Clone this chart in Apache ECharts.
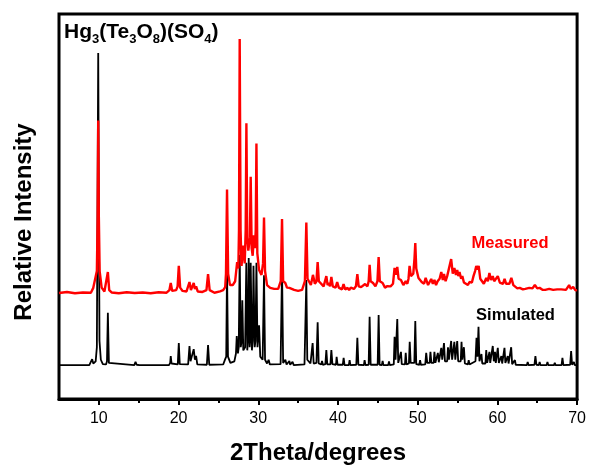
<!DOCTYPE html>
<html>
<head>
<meta charset="utf-8">
<script src="https://cdn.jsdelivr.net/npm/echarts@6/dist/echarts.min.js"></script>
<style>
  html, body { margin: 0; padding: 0; background: #fff; }
  #chart { width: 589px; height: 466px; }
</style>
</head>
<body>
<div id="chart"></div>
<script>
// Powder XRD of Hg3(Te3O8)(SO4): calculated pattern vs. measured pattern.
// Intensities are relative (% of each pattern's strongest reflection).

const xMin = 5;
const xMax = 70;
const majorTicks = [10, 20, 30, 40, 50, 60, 70];
const minorTicks = [15, 25, 35, 45, 55, 65];

// [2theta, relative intensity %]
const simulated = [
  [5,0.3],[8.8,0.3],[9.05,0.6],[9.16,2.2],[9.3,0.8],[9.6,1.5],[9.75,6],[9.92,100],[10.08,8],[10.25,2],[10.5,0.6],
  [10.9,0.5],[11.02,1.5],[11.13,17],[11.26,1],[11.5,0.4],
  [14.45,0.3],[14.6,1.3],[14.75,0.4],[14.9,0.4],[15.0,1.0],[15.1,0.3],
  [18.8,0.3],[18.95,1],[19.02,3.2],[19.12,0.8],[19.9,0.5],[20.03,7.3],[20.15,0.6],
  [21.2,0.5],[21.37,6.4],[21.5,1.5],[21.75,1.5],[21.9,5.4],[22.05,2],[22.2,3.2],[22.35,0.5],
  [23.55,0.4],[23.7,6.7],[23.85,0.4],[25.6,0.5],[25.85,2.2],[25.98,3],[26.08,31],[26.2,3],[26.5,1],
  [27.0,1.5],[27.2,4],[27.3,9.6],[27.45,4],[27.55,6],[27.67,35.5],[27.8,6],[27.92,8],[28.0,21],[28.12,5],
  [28.35,6],[28.5,33],[28.62,5],[28.7,8],[28.8,34.5],[28.92,6],[28.97,8],[29.05,33],[29.2,5],[29.3,8],
  [29.4,32],[29.55,6],[29.65,8],[29.77,33],[29.9,6],[30.1,13],[30.25,3],[30.55,2],[30.72,29],[30.85,2],
  [31.1,0.8],[31.3,2],[31.45,0.5],[32.8,0.6],[32.98,31],[33.12,1],[33.4,2],[33.55,0.5],[33.9,1.6],[34.0,0.4],
  [34.3,1.3],[34.45,0.3],[35.8,0.5],[36.03,27.5],[36.15,2],[36.4,2.5],[36.55,0.8],[36.7,1],[36.82,7.3],[36.95,0.8],
  [37.3,1],[37.45,14],[37.58,0.8],[37.9,0.5],[38.0,1.6],[38.1,0.4],[38.42,0.6],[38.54,5.1],[38.66,0.5],
  [39.05,0.5],[39.17,5.1],[39.3,0.6],[39.75,0.4],[39.83,2.9],[39.95,0.4],[40.6,0.4],[40.71,2.6],[40.82,0.3],
  [41.36,0.3],[41.46,1.9],[41.56,0.3],[42.3,0.4],[42.43,9],[42.56,0.4],[43.25,0.3],[43.34,1.9],[43.45,0.3],
  [43.85,0.4],[43.97,15.7],[44.1,0.4],[44.98,0.4],[45.1,16.3],[45.22,0.4],[45.5,0.3],[45.6,1.6],[45.7,0.3],
  [46.3,0.3],[46.4,1.5],[46.5,0.3],[47.0,0.5],[47.1,9.3],[47.22,2],[47.32,2],[47.44,15],[47.56,1],
  [47.8,0.6],[47.9,4.5],[48.0,0.6],[48.4,0.5],[48.5,4.2],[48.6,0.5],[48.9,0.8],[49.0,7.7],[49.12,1],
  [49.58,1],[49.7,14.4],[49.82,0.6],[50.2,0.4],[50.3,1.9],[50.4,0.4],[50.95,0.5],[51.07,4.2],[51.2,1],
  [51.5,1],[51.6,4.5],[51.72,1],[52.0,1],[52.1,4.5],[52.22,1],[52.42,1],[52.53,4.2],[52.65,1.2],
  [52.85,1.5],[52.96,5.8],[53.08,2],[53.2,2],[53.3,7.3],[53.42,1.5],[53.7,1.5],[53.8,6],[53.92,2],
  [54.1,2],[54.2,8],[54.32,2],[54.5,2],[54.6,7.7],[54.72,2],[54.85,2],[54.96,8],[55.08,1.5],
  [55.4,1.5],[55.5,7.7],[55.6,2],[55.7,2],[55.8,6],[55.92,0.8],[56.3,0.5],[56.4,1.9],[56.5,0.5],
  [57.25,1.5],[57.38,9],[57.5,3],[57.63,12.5],[57.75,1.5],[57.9,1],[58.0,3.8],[58.1,0.8],
  [58.5,0.8],[58.6,5.1],[58.72,1],[58.9,1],[59.0,4.5],[59.1,1],[59.32,1],[59.42,6.4],[59.55,1.5],
  [59.6,1.5],[59.7,4.5],[59.8,1],[59.95,1],[60.05,5.8],[60.18,1],[60.4,0.8],[60.5,3.2],[60.6,0.8],
  [60.78,1],[60.89,5.8],[61.0,1],[61.2,0.8],[61.3,3.2],[61.4,0.8],[61.62,0.8],[61.73,6],[61.85,0.6],
  [62.1,0.4],[62.2,1.9],[62.3,0.4],[63.7,0.3],[63.8,1.3],[63.9,0.3],[64.65,0.4],[64.77,3.2],[64.9,0.4],
  [65.2,0.3],[65.3,1.3],[65.4,0.3],[66.18,0.3],[66.28,1.3],[66.38,0.3],[67.1,0.3],[67.2,1],[67.3,0.3],
  [68.05,0.3],[68.16,2.6],[68.28,0.3],[69.13,0.4],[69.25,4.8],[69.37,0.4],[69.5,0.3],[69.6,1.3],[69.7,0.3],
  [70,0.3]
];

// [2theta, relative intensity %]
const measured = [
  [5,0.4],[6,0.8],[7,0.3],[8,0.6],[9.0,0.5],[9.3,2.4],[9.55,2.5],[9.75,9],[9.85,30],[9.92,68],[10.0,30],
  [10.1,9],[10.35,2.5],[10.7,1],[10.95,1.5],[11.13,8.6],[11.3,1.5],[11.6,0.6],[12.5,0.3],[13.5,0.7],
  [14.5,0.4],[15.5,0.6],[16.5,0.3],[17.5,0.7],[18.5,0.5],[18.85,1.5],[19.02,4.3],[19.2,1.2],[19.7,1.5],
  [19.88,3],[20.03,11],[20.2,2.5],[20.5,1.2],[21.0,1],[21.2,1.5],[21.37,4.7],[21.55,1.5],[21.75,2],
  [21.9,4.3],[22.05,2],[22.2,3],[22.4,1],[23.0,0.8],[23.5,1.5],[23.7,7.8],[23.9,1.5],[24.5,0.5],
  [25.2,1],[25.6,1.5],[25.85,2.7],[25.95,8],[26.08,41],[26.22,8],[26.45,3.5],[26.8,3.5],[27.1,5],
  [27.35,12.5],[27.5,10],[27.58,25],[27.67,100],[27.78,25],[27.9,11],[28.1,19],[28.3,12],[28.42,25],
  [28.51,67],[28.62,22],[28.75,17],[28.95,22],[29.05,46],[29.17,18],[29.3,15],[29.45,23],[29.58,18],
  [29.68,25],[29.77,59],[29.88,16],[30.1,9.4],[30.4,7.5],[30.6,12],[30.72,30],[30.85,9],[31.1,3.5],
  [31.5,2.4],[32.0,2],[32.5,2],[32.82,5],[32.98,29.4],[33.12,5],[33.4,4.3],[33.6,2.5],[33.9,2.4],
  [34.5,1.6],[35.0,1.2],[35.5,1.6],[35.85,5],[36.03,28],[36.18,6],[36.4,5.5],[36.6,3.5],[36.86,7.5],
  [37.1,4],[37.3,5],[37.45,12.5],[37.6,5],[37.8,4.7],[38.2,3],[38.54,7],[38.7,3.5],[38.85,4.3],[39.0,3],
  [39.17,6.7],[39.35,3],[39.5,3.5],[39.7,2.5],[39.9,4.7],[40.1,2.5],[40.3,2.7],[40.5,1.8],[40.7,3.9],
  [40.9,1.8],[41.2,2.4],[41.4,1.5],[41.6,2.5],[42.0,2],[42.25,3],[42.43,7.8],[42.6,3],[42.9,2.7],
  [43.1,2],[43.4,3.9],[43.7,3],[43.85,5],[43.97,11.4],[44.1,5],[44.4,4.3],[44.7,3],[44.95,5],[45.1,14.5],
  [45.25,5],[45.6,4.3],[45.9,2.5],[46.2,3.1],[46.6,3],[46.9,4],[47.1,10.2],[47.25,7.5],[47.44,10.6],
  [47.6,6],[47.9,5.5],[48.2,3.5],[48.5,5],[48.7,4],[48.85,6],[48.98,11],[49.15,7],[49.3,7.5],[49.45,8],
  [49.6,14],[49.7,20],[49.82,10],[50.1,6.3],[50.5,4.7],[50.8,4],[51.0,6.3],[51.3,3.5],[51.7,5.9],
  [51.9,4],[52.1,5.5],[52.3,3.5],[52.5,5],[52.75,6],[52.96,8.6],[53.15,5.5],[53.3,7.8],[53.5,5],
  [53.7,7],[53.95,6.5],[54.2,13.7],[54.4,8],[54.6,10.2],[54.8,7.5],[54.96,9.4],[55.1,7],[55.25,8.6],
  [55.45,6],[55.6,7],[55.8,4.5],[56.0,4.3],[56.3,3.5],[56.5,4.7],[56.8,4.5],[57.0,7],[57.2,9],
  [57.35,11],[57.5,9.5],[57.65,11],[57.85,6],[58.0,5.5],[58.3,4],[58.6,6.3],[58.8,5],[59.0,8.2],
  [59.2,5.5],[59.42,7],[59.6,5],[59.8,5],[60.05,7],[60.3,4.5],[60.5,5],[60.7,4],[60.9,5.9],[61.1,4],
  [61.3,4.3],[61.5,4],[61.75,6.3],[62.0,3.5],[62.2,3.1],[62.5,2.2],[62.8,2.4],[63.2,1.8],[63.5,2],
  [64.0,2.4],[64.4,2.2],[64.7,3.5],[65.0,2.2],[65.3,2.4],[65.7,1.6],[66.0,1.6],[66.5,2],[67.0,1.6],
  [67.5,1.8],[68.0,1.8],[68.2,2.4],[68.6,1.6],[69.0,3.5],[69.2,2],[69.5,2.8],[69.8,1.4],[70,1.5]
];

const FONT = "'Liberation Sans', Arial, sans-serif";

const chart = echarts.init(document.getElementById('chart'), null, { renderer: 'canvas' });

chart.setOption({
  animation: false,
  backgroundColor: '#fff',
  textStyle: { fontFamily: FONT },
  grid: {
    left: 59, right: 11, top: 14, bottom: 67,
    show: true, borderColor: '#000', borderWidth: 3, backgroundColor: 'transparent'
  },
  xAxis: [
    {
      type: 'value', min: xMin, max: xMax, position: 'bottom',
      axisLine: { show: true, onZero: false, lineStyle: { color: '#000', width: 3 } },
      axisTick: { show: true, length: 6, lineStyle: { color: '#000', width: 2 }, customValues: majorTicks },
      axisLabel: { customValues: majorTicks, fontSize: 16, color: '#000', margin: 12, fontFamily: FONT },
      splitLine: { show: false }
    },
    {
      type: 'value', min: xMin, max: xMax, position: 'bottom',
      axisLine: { show: false, onZero: false },
      axisTick: { show: true, length: 4, lineStyle: { color: '#000', width: 2 }, customValues: minorTicks },
      axisLabel: { show: false },
      splitLine: { show: false }
    }
  ],
  yAxis: [
    { type: 'value', show: false, min: -10.54, max: 112.46, splitLine: { show: false } },
    { type: 'value', show: false, min: -41.18, max: 109.8, splitLine: { show: false } }
  ],
  series: [
    {
      name: 'Simulated', type: 'line', xAxisIndex: 0, yAxisIndex: 0,
      data: simulated, symbol: 'none', smooth: false,
      lineStyle: { color: '#000', width: 1.8 }, z: 2
    },
    {
      name: 'Measured', type: 'line', xAxisIndex: 0, yAxisIndex: 1,
      data: measured, symbol: 'none', smooth: false,
      lineStyle: { color: '#ff0000', width: 2.4 }, z: 3
    }
  ],
  graphic: [
    {
      type: 'text', left: 64, top: 22, z: 10,
      style: {
        text: '{m|Hg}{s|3}{m|(Te}{s|3}{m|O}{s|8}{m|)(SO}{s|4}{m|)}',
        font: 'bold 21px ' + FONT, fill: '#000',
        rich: {
          m: { fontSize: 21, fontWeight: 'bold', fontFamily: FONT, fill: '#000', lineHeight: 21, verticalAlign: 'top' },
          s: { fontSize: 13, fontWeight: 'bold', fontFamily: FONT, fill: '#000', padding: [11, 0, 0, 0], verticalAlign: 'bottom' }
        }
      }
    },
    {
      type: 'text', x: 24, y: 222, rotation: Math.PI / 2, z: 10,
      style: { text: 'Relative Intensity', font: 'bold 24px ' + FONT, fill: '#000', align: 'center', verticalAlign: 'middle' }
    },
    {
      type: 'text', x: 318, y: 453, z: 10,
      style: { text: '2Theta/degrees', font: 'bold 24px ' + FONT, fill: '#000', align: 'center', verticalAlign: 'middle' }
    },
    {
      type: 'text', x: 510, y: 243, z: 10,
      style: { text: 'Measured', font: 'bold 16.5px ' + FONT, fill: '#ff0000', align: 'center', verticalAlign: 'middle' }
    },
    {
      type: 'text', x: 515.5, y: 315, z: 10,
      style: { text: 'Simulated', font: 'bold 16.5px ' + FONT, fill: '#000', align: 'center', verticalAlign: 'middle' }
    }
  ]
});
</script>
</body>
</html>
